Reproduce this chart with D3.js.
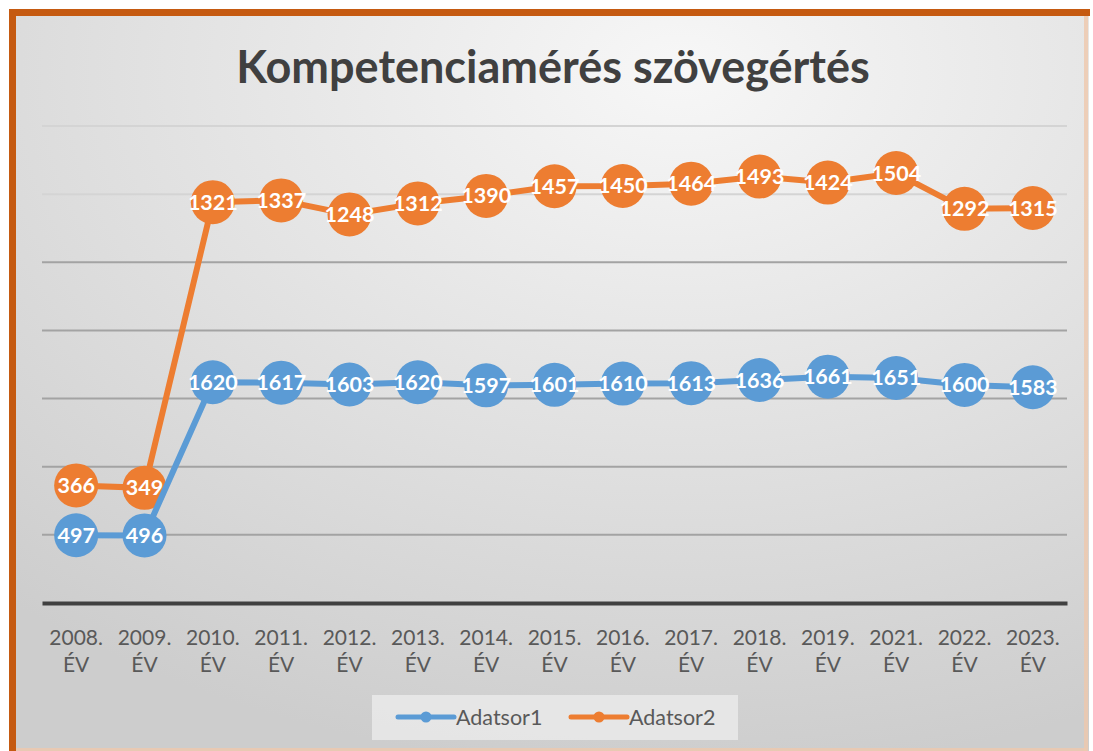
<!DOCTYPE html>
<html>
<head>
<meta charset="utf-8">
<script src="https://cdn.jsdelivr.net/npm/d3@7"></script>
<style>
  body { margin: 0; background: #fff; }
  svg { display: block; font-family: Lato, "Open Sans", sans-serif; }
</style>
</head>
<body>
<svg id="chart" width="1093" height="751"></svg>
<script>
const categories = ["2008.", "2009.", "2010.", "2011.", "2012.", "2013.", "2014.", "2015.",
    "2016.", "2017.", "2018.", "2019.", "2021.", "2022.", "2023."];
const adatsor1 = [497, 496, 1620, 1617, 1603, 1620, 1597, 1601, 1610, 1613, 1636, 1661, 1651, 1600, 1583];
const adatsor2 = [366, 349, 1321, 1337, 1248, 1312, 1390, 1457, 1450, 1464, 1493, 1424, 1504, 1292, 1315];
const yTicks = [0, 500, 1000, 1500, 2000, 2500, 3000, 3500];

const svg = d3.select("#chart");
const W = 1093, H = 751;

// background gradient
const defs = svg.append("defs");
const grad = defs.append("radialGradient")
    .attr("id", "bg")
    .attr("cx", "62%").attr("cy", "8%").attr("r", "95%");
grad.append("stop").attr("offset", "0%").attr("stop-color", "#f7f7f7");
grad.append("stop").attr("offset", "55%").attr("stop-color", "#e0e0e0");
grad.append("stop").attr("offset", "100%").attr("stop-color", "#cdcdcd");

svg.append("rect")
    .attr("x", 12).attr("y", 12)
    .attr("width", W - 16).attr("height", H - 12)
    .attr("fill", "url(#bg)");

// frame: solid top/left, faint right/bottom
svg.append("line").attr("x1", 9).attr("x2", 1090).attr("y1", 12.5).attr("y2", 12.5)
    .attr("stroke", "#c55a11").attr("stroke-width", 7);
svg.append("line").attr("x1", 12.5).attr("x2", 12.5).attr("y1", 9).attr("y2", H)
    .attr("stroke", "#c55a11").attr("stroke-width", 7);
svg.append("line").attr("x1", 1086).attr("x2", 1086).attr("y1", 16).attr("y2", H)
    .attr("stroke", "#efc9ad").attr("stroke-width", 4).attr("opacity", 0.8);
svg.append("line").attr("x1", 16).attr("x2", 1086).attr("y1", 749.5).attr("y2", 749.5)
    .attr("stroke", "#efc9ad").attr("stroke-width", 3).attr("opacity", 0.8);

// title
svg.append("text")
    .attr("x", 553).attr("y", 83)
    .attr("text-anchor", "middle")
    .attr("font-size", 45)
    .attr("font-weight", "bold")
    .attr("fill", "#404040")
    .text("Kompetenciamérés szövegértés");

const x = d3.scaleBand()
    .domain(categories)
    .range([42, 1067]);

const y = d3.scaleLinear()
    .domain([0, 3500])
    .range([603, 126]);

// gridlines
svg.append("g")
    .selectAll("line")
    .data(yTicks.slice(1))
    .join("line")
    .attr("x1", 42).attr("x2", 1067)
    .attr("y1", d => y(d)).attr("y2", d => y(d))
    .attr("stroke", d => d >= 3000 ? "#d4d4d4" : "#a3a3a3")
    .attr("stroke-width", 2);

// x axis
const xAxis = svg.append("g")
    .attr("transform", `translate(0,${y(0)})`)
    .call(d3.axisBottom(x).tickSize(0).tickFormat(""));
xAxis.select(".domain").attr("stroke", "#404040").attr("stroke-width", 4);

const lab = svg.append("g").selectAll("text")
    .data(categories)
    .join("text")
    .attr("x", d => x(d) + x.bandwidth() / 2)
    .attr("y", 645)
    .attr("text-anchor", "middle")
    .attr("font-size", 21)
    .attr("fill", "#595959");
lab.append("tspan").attr("x", d => x(d) + x.bandwidth() / 2).text(d => d);
lab.append("tspan").attr("x", d => x(d) + x.bandwidth() / 2).attr("dy", 27).text("ÉV");

// stacked series
const series = [
    { name: "Adatsor2", color: "#ed7d31", values: adatsor2, base: adatsor1 },
    { name: "Adatsor1", color: "#5b9bd5", values: adatsor1, base: adatsor1.map(() => 0) }
];

const cx = c => x(c) + x.bandwidth() / 2;

series.forEach(s => {
    const pts = categories.map((c, i) => ({ c, v: s.values[i], top: s.values[i] + s.base[i] }));
    const g = svg.append("g");
    g.append("path")
        .datum(pts)
        .attr("fill", "none")
        .attr("stroke", s.color)
        .attr("stroke-width", 6)
        .attr("d", d3.line().x(d => cx(d.c)).y(d => y(d.top)));
    g.selectAll("circle")
        .data(pts)
        .join("circle")
        .attr("cx", d => cx(d.c))
        .attr("cy", d => y(d.top))
        .attr("r", 22)
        .attr("fill", s.color);
    s.pts = pts;
});

series.forEach(s => {
    svg.append("g").selectAll("text")
        .data(s.pts)
        .join("text")
        .attr("x", d => cx(d.c))
        .attr("y", d => y(d.top) + 7.5)
        .attr("text-anchor", "middle")
        .attr("font-size", 21.5)
        .attr("font-weight", "bold")
        .attr("fill", "#ffffff")
        .text(d => d.v);
});

// legend
const leg = svg.append("g");
leg.append("rect")
    .attr("x", 372).attr("y", 695)
    .attr("width", 366).attr("height", 45)
    .attr("fill", "#ebebeb").attr("opacity", 0.8);
[
    { name: "Adatsor1", color: "#5b9bd5", x0: 398 },
    { name: "Adatsor2", color: "#ed7d31", x0: 571 }
].forEach(d => {
    leg.append("line")
        .attr("x1", d.x0).attr("x2", d.x0 + 56)
        .attr("y1", 717).attr("y2", 717)
        .attr("stroke", d.color).attr("stroke-width", 5)
        .attr("stroke-linecap", "round");
    leg.append("circle")
        .attr("cx", d.x0 + 28).attr("cy", 717).attr("r", 5.5)
        .attr("fill", d.color);
    leg.append("text")
        .attr("x", d.x0 + 58).attr("y", 725)
        .attr("font-size", 21.5)
        .attr("fill", "#595959")
        .text(d.name);
});
</script>
</body>
</html>
